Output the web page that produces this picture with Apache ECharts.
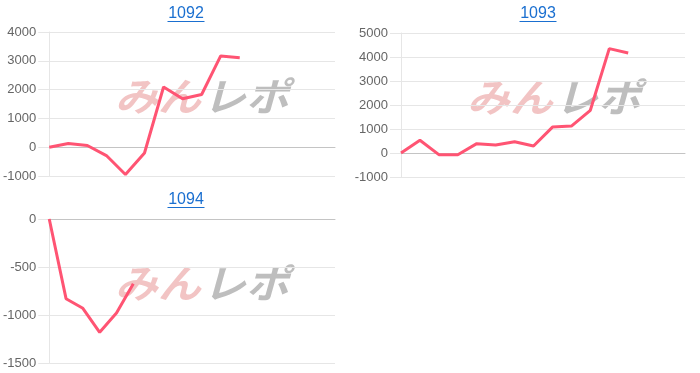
<!DOCTYPE html>
<html>
<head>
<meta charset="utf-8">
<script src="https://cdn.jsdelivr.net/npm/echarts@6/dist/echarts.min.js"></script>
<style>
html,body{margin:0;padding:0;background:#fff;}
#chart{width:700px;height:373px;}
</style>
</head>
<body>
<div id="chart"></div>
<script>
// ---- data ----
var titles = ['1092', '1093', '1094'];
var categories1092 = ['1','2','3','4','5','6','7','8','9','10','11','12','13','14','15','16'];
var categories1093 = ['1','2','3','4','5','6','7','8','9','10','11','12','13','14','15','16'];
var categories1094 = ['1','2','3','4','5','6','7','8','9','10','11','12','13','14','15','16','17','18'];
var values1092 = [0, 130, 60, -290, -950, -200, 2090, 1680, 1830, 3170, 3110];
var values1093 = [0, 530, -70, -70, 390, 330, 470, 290, 1080, 1120, 1780, 4350, 4170];
var values1094 = [0, -830, -930, -1180, -980, -675];
var yTicks1092 = {min: -1000, max: 4000, interval: 1000};
var yTicks1093 = {min: -1000, max: 5000, interval: 1000};
var yTicks1094 = {min: -1500, max: 0, interval: 500};

// ---- layout / style ----
var FONT = '"Liberation Sans", Arial, sans-serif';
var LINE_COLOR = '#ff5473';
var TITLE_COLOR = '#1a6fd0';
var grids = [
  {left: 49, top: 32, width: 286, height: 144},
  {left: 401, top: 33, width: 284, height: 144},
  {left: 49, top: 219, width: 286, height: 144}
];
var titlePos = [
  {cx: 186, top: 6},
  {cx: 538, top: 6},
  {cx: 186, top: 192}
];
var cats = [categories1092, categories1093, categories1094];
var vals = [values1092, values1093, values1094];
var ticks = [yTicks1092, yTicks1093, yTicks1094];

var option = {
  animation: false,
  backgroundColor: '#fff',
  title: [], grid: [], xAxis: [], yAxis: [], series: [], graphic: []
};

for (var i = 0; i < 3; i++) {
  option.title.push({
    text: titles[i], left: titlePos[i].cx, top: titlePos[i].top, textAlign: 'center', padding: 0,
    textStyle: {color: TITLE_COLOR, fontSize: 16, fontWeight: 'normal', fontFamily: FONT}
  });
  option.graphic.push({
    type: 'line', z: 5,
    shape: {x1: titlePos[i].cx - 18.5, y1: titlePos[i].top + 15.5, x2: titlePos[i].cx + 18.5, y2: titlePos[i].top + 15.5},
    style: {stroke: TITLE_COLOR, lineWidth: 1}
  });
  var g = grids[i];
  option.grid.push({left: g.left, top: g.top, width: g.width, height: g.height, containLabel: false});
  option.xAxis.push({
    type: 'category', gridIndex: i, data: cats[i], boundaryGap: false,
    axisLabel: {show: false}, axisTick: {show: false},
    axisLine: {show: true, onZero: true, lineStyle: {color: '#c4c4c4', width: 1}},
    splitLine: {show: false}
  });
  option.yAxis.push({
    type: 'value', gridIndex: i, min: ticks[i].min, max: ticks[i].max, interval: ticks[i].interval,
    axisLine: {show: true, lineStyle: {color: '#e6e6e6'}},
    axisTick: {show: true, length: 11, lineStyle: {color: '#e6e6e6'}},
    axisLabel: {color: '#666', fontSize: 13, fontFamily: FONT, margin: 13, formatter: function (v) { return String(v); }},
    splitLine: {show: true, lineStyle: {color: '#e6e6e6', width: 1}}
  });
  option.series.push({
    type: 'line', xAxisIndex: i, yAxisIndex: i, data: vals[i], showSymbol: false, symbol: 'none',
    lineStyle: {color: LINE_COLOR, width: 3}, z: 3, silent: true
  });
  // watermark
  var wx = g.left + 66, wy = g.top + 45;
  option.graphic.push({
    type: 'group', z: 1, left: wx, top: wy, silent: true,
    children: [
      {type: 'text', x: 0, y: 0, scaleX: 1.1, style: {text: 'みん', fill: 'rgba(220,100,100,0.38)', font: 'italic bold 39px "Noto Sans CJK JP"'}},
      {type: 'text', x: 88, y: 0, scaleX: 1.1, style: {text: 'レポ', fill: 'rgba(110,110,110,0.45)', font: 'italic bold 39px "Noto Sans CJK JP"'}}
    ]
  });
}

var chart = echarts.init(document.getElementById('chart'), null, {renderer: 'canvas'});
chart.setOption(option);
</script>
</body>
</html>
